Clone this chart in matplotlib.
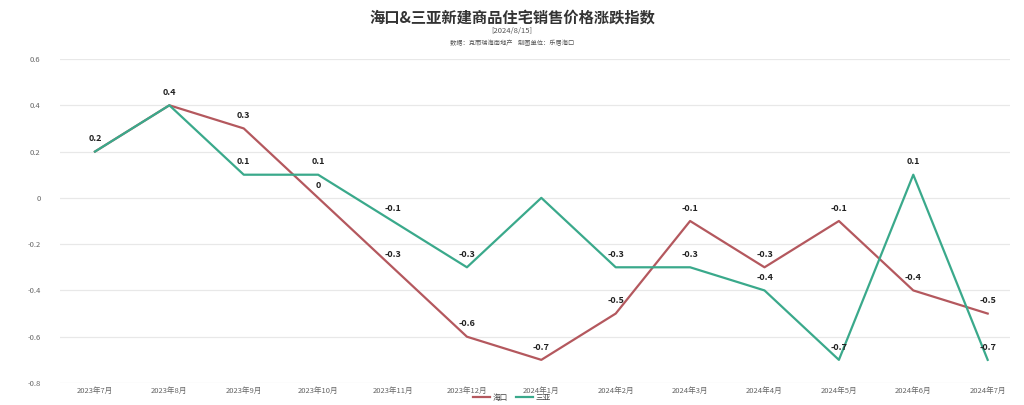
import matplotlib
matplotlib.use('Agg')
import matplotlib.pyplot as plt

plt.rcParams['font.family'] = ['Noto Sans CJK SC', 'DejaVu Sans']

months = ['2023年7月', '2023年8月', '2023年9月', '2023年10月', '2023年11月', '2023年12月',
          '2024年1月', '2024年2月', '2024年3月', '2024年4月', '2024年5月', '2024年6月', '2024年7月']
haikou = [0.2, 0.4, 0.3, 0, -0.3, -0.6, -0.7, -0.5, -0.1, -0.3, -0.1, -0.4, -0.5]
sanya = [0.2, 0.4, 0.1, 0.1, -0.1, -0.3, 0, -0.3, -0.3, -0.4, -0.7, 0.1, -0.7]
# which labels are drawn in the original (overlapping ones are hidden)
show_haikou = [False, True, True, True, True, True, True, True, True, True, True, True, True]
show_sanya = [True, False, True, True, True, True, False, True, True, True, True, True, True]
yticks = [0.6, 0.4, 0.2, 0, -0.2, -0.4, -0.6, -0.8]

red = '#b4585e'
green = '#3aa98b'

fig = plt.figure(figsize=(10.24, 4.05), dpi=100)
ax = fig.add_axes([60 / 1024, 1 - 383 / 405, 950 / 1024, 324 / 405])

x = list(range(len(months)))
ax.plot(x, haikou, color=red, linewidth=1.6, label='海口', zorder=3)
ax.plot(x, sanya, color=green, linewidth=1.6, label='三亚', zorder=3)

for xi, v, s in zip(x, haikou, show_haikou):
    if s:
        ax.annotate(f'{v:g}', (xi, v), xytext=(0, 6), textcoords='offset points',
                    ha='center', va='bottom', fontsize=6.5, fontweight='bold', color='#222222')
for xi, v, s in zip(x, sanya, show_sanya):
    if s:
        ax.annotate(f'{v:g}', (xi, v), xytext=(0, 6), textcoords='offset points',
                    ha='center', va='bottom', fontsize=6.5, fontweight='bold', color='#222222')

ax.set_xlim(-0.47, 12.3)
ax.set_ylim(-0.8, 0.6)
ax.set_yticks(yticks)
ax.set_yticklabels([f'{t:g}' for t in yticks])
ax.set_xticks(x)
ax.set_xticklabels(months)
ax.tick_params(axis='both', length=0, labelsize=5.5, labelcolor='#666666')
ax.tick_params(axis='y', pad=14)
ax.tick_params(axis='x', pad=3)
ax.grid(axis='y', color='#e8e8e8', linewidth=0.9)
ax.set_axisbelow(True)
for sp in ax.spines.values():
    sp.set_visible(False)

fig.text(0.5, 1 - 17 / 405, '海口&三亚新建商品住宅销售价格涨跌指数', ha='center', va='center',
         fontsize=11, fontweight='bold', color='#333333')
fig.text(0.5, 1 - 31 / 405, '[2024/8/15]', ha='center', va='center', fontsize=5.5, color='#555555')
fig.text(0.5, 1 - 43 / 405, '数据：克而瑞海南地产    制图单位：乐居海口', ha='center', va='center',
         fontsize=4.5, color='#555555')

fig.legend(loc='center', bbox_to_anchor=(0.5, 1 - 398 / 405), ncol=2, frameon=False,
           fontsize=5.5, handlelength=2.2, columnspacing=1.0, handletextpad=0.4,
           labelcolor='#444444')

fig.savefig('out.png', dpi=100, facecolor='white')
